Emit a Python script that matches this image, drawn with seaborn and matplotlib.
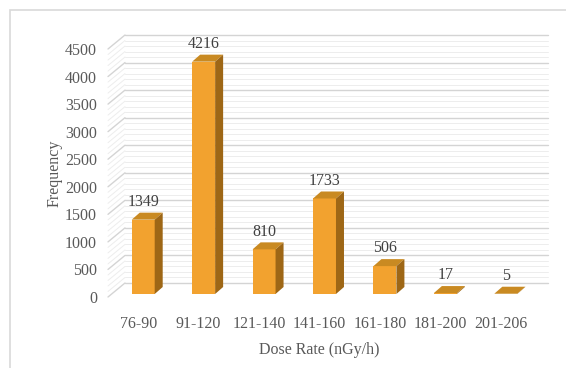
import numpy as np
import pandas as pd
import seaborn as sns
import matplotlib
matplotlib.use("Agg")
import matplotlib.pyplot as plt
from matplotlib.patches import Polygon, Rectangle

# data
dose_ranges = ['76-90', '91-120', '121-140', '141-160', '161-180', '181-200', '201-206']
frequency = [1349, 4216, 810, 1733, 506, 17, 5]
y_ticks = [0, 500, 1000, 1500, 2000, 2500, 3000, 3500, 4000, 4500]

df = pd.DataFrame({'dose': dose_ranges, 'freq': frequency})

sns.set_theme(style="white")
plt.rcParams['font.family'] = ['Liberation Serif', 'DejaVu Serif']

text_col = '#595959'
front_col = '#F2A22F'
top_col = '#C98A22'
side_col = '#9E6716'

fig = plt.figure(figsize=(5.66, 3.68), dpi=100)
ax = fig.add_axes([108/566, 1-297/368, 423/566, 248/368])

sns.barplot(x='dose', y='freq', data=df, color=front_col, width=0.38,
            saturation=1, linewidth=0, ax=ax, zorder=3)

ax.set_xlim(-0.5, 6.5)
ax.set_ylim(0, 4500)
sns.despine(ax=ax, left=True, bottom=True)
ax.set_yticks(y_ticks)
ax.tick_params(axis='both', length=0, colors=text_col, labelsize=11.5)
ax.tick_params(axis='y', pad=8)
ax.tick_params(axis='x', pad=14)
ax.set_xlabel('Dose Rate (nGy/h)', fontsize=11.5, color=text_col, labelpad=7)
ax.set_ylabel('Frequency', fontsize=11.5, color=text_col, labelpad=2)
ax.grid(False)

# pixel -> data conversion for the fake 3d look
p0 = ax.transData.transform((0, 0))
px_x = ax.transData.transform((1, 0))[0] - p0[0]
px_y = ax.transData.transform((0, 1))[1] - p0[1]

def off(dx, dy):
    return dx / px_x, dy / px_y

wall_dx, wall_dy = off(17, 14)
bar_sx, bar_sy = off(5, 3)
bar_dx, bar_dy = off(8, 7)

x0, x1 = ax.get_xlim()
# back wall + side wall grid
for v in range(0, 4501, 100):
    major = v % 500 == 0
    c = '#D4D4D4' if major else '#EDEDED'
    lw = 1.0 if major else 0.7
    ax.plot([x0 + wall_dx, x1 + wall_dx], [v + wall_dy, v + wall_dy],
            color=c, lw=lw, clip_on=False, zorder=1)
    ax.plot([x0, x0 + wall_dx], [v, v + wall_dy],
            color=c, lw=lw, clip_on=False, zorder=1)

# turn the flat bars into boxes
for bar, val in zip(ax.patches, frequency):
    bx = bar.get_x() + bar_sx
    bw = bar.get_width()
    bar.set_x(bx)
    bar.set_y(bar_sy)
    bar.set_clip_on(False)
    yb = bar_sy
    yt = bar_sy + bar.get_height()
    top = Polygon([(bx, yt), (bx + bw, yt), (bx + bw + bar_dx, yt + bar_dy),
                   (bx + bar_dx, yt + bar_dy)], closed=True,
                  facecolor=top_col, edgecolor='none', zorder=4, clip_on=False)
    side = Polygon([(bx + bw, yb), (bx + bw + bar_dx, yb + bar_dy),
                    (bx + bw + bar_dx, yt + bar_dy), (bx + bw, yt)], closed=True,
                   facecolor=side_col, edgecolor='none', zorder=4, clip_on=False)
    ax.add_patch(top)
    ax.add_patch(side)
    ax.annotate(f'{val}', (bx + bw/2, yt + bar_dy), xytext=(0, 2),
                textcoords='offset points', ha='center', va='bottom',
                fontsize=11.5, color='#404040', zorder=5)

# chart frame
fig.patches.append(Rectangle((10/566, -0.1), 1.2, 1 - 10/368 + 0.1,
                             transform=fig.transFigure, fill=False,
                             edgecolor='#D9D9D9', lw=1.2))

plt.savefig('out.png', dpi=100)
